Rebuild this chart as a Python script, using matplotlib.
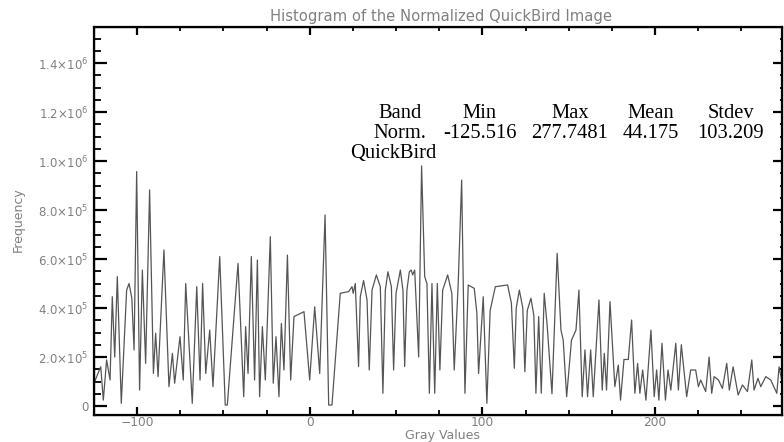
import numpy as np
import matplotlib.pyplot as plt
from matplotlib.ticker import MultipleLocator, FuncFormatter

# histogram turning points (gray value, frequency)
gray_values = [
    -124.5, -121.0, -119.5, -117.6, -115.6, -114.3, -112.9, -111.4, -109.1, -106.0,
    -104.6, -101.7, -100.2, -98.5, -96.9, -95.0, -92.7, -90.5, -89.2, -87.8,
    -84.4, -81.5, -79.5, -78.2, -75.1, -73.2, -71.8, -68.0, -65.4, -63.5,
    -62.0, -60.2, -57.9, -56.0, -52.1, -48.9, -47.7, -41.5, -39.6, -38.2,
    -37.1, -35.7, -33.8, -31.9, -30.3, -29.0, -27.4, -25.7, -22.8, -21.1,
    -19.5, -17.8, -16.4, -14.9, -12.9, -11.0, -9.1, -3.3, 0.0, 2.9,
    5.8, 8.9, 11.0, 12.9, 17.7, 22.5, 24.5, 25.2, 26.4, 28.3,
    31.2, 34.5, 38.6, 42.4, 45.3, 48.6, 52.5, 55.0, 57.7, 58.8,
    59.6, 60.8, 63.1, 64.8, 66.6, 67.9, 69.3, 70.8, 72.4, 73.9,
    75.4, 79.9, 83.7, 86.0, 88.0, 89.9, 91.8, 95.3, 97.8, 100.5,
    102.6, 107.5, 114.6, 118.5, 121.4, 124.6, 128.1, 131.0, 132.6, 134.1,
    135.8, 137.5, 140.3, 143.3, 145.5, 146.8, 148.8, 151.6, 154.2, 155.9,
    157.8, 159.4, 160.9, 162.7, 164.2, 167.5, 169.4, 170.6, 171.9, 173.9,
    176.7, 178.7, 180.0, 182.0, 184.5, 186.4, 188.3, 189.9, 191.2, 192.8,
    194.7, 197.6, 199.5, 200.9, 202.2, 204.0, 206.0, 207.5, 209.1, 212.0,
    213.5, 215.2, 218.3, 220.6, 223.5, 225.1, 226.4, 229.3, 231.3, 232.8,
    234.2, 236.7, 239.0, 241.5, 243.0, 245.2, 248.1, 250.6, 253.5, 256.0,
    257.3, 259.6, 261.2, 264.1, 267.0, 270.5, 271.8, 273.5,
]
frequency = [
    1.0e5, 1.6e5, 2.4e4, 1.88e5, 1.06e5, 4.46e5, 2.0e5, 5.28e5, 1.1e4, 4.73e5,
    5.0e5, 2.29e5, 9.57e5, 6.5e4, 5.55e5, 1.74e5, 8.82e5, 1.33e5, 2.97e5, 1.2e5,
    6.37e5, 7.9e4, 2.15e5, 9.3e4, 2.83e5, 1.06e5, 5.0e5, 1.1e4, 4.87e5, 1.06e5,
    5.0e5, 1.33e5, 3.1e5, 7.9e4, 6.1e5, 4e3, 4e3, 5.82e5, 2.69e5, 3.8e4,
    3.24e5, 1.33e5, 6.1e5, 1.06e5, 5.96e5, 3.8e4, 3.24e5, 1.06e5, 6.91e5, 9.3e4,
    2.83e5, 3.8e4, 3.37e5, 1.47e5, 6.16e5, 1.06e5, 3.65e5, 3.85e5, 1.06e5, 4.05e5,
    1.33e5, 7.8e5, 4e3, 4e3, 4.6e5, 4.67e5, 4.87e5, 4.6e5, 5.0e5, 1.61e5,
    5.12e5, 1.47e5, 5.35e5, 5.2e4, 5.48e5, 1.47e5, 5.55e5, 1.61e5, 5.48e5, 5.55e5,
    5.35e5, 5.55e5, 2.0e5, 9.8e5, 5.28e5, 5.0e5, 5.2e4, 5.0e5, 5.2e4, 5.0e5,
    1.47e5, 5.35e5, 1.47e5, 5.0e5, 9.22e5, 5.2e4, 4.94e5, 4.8e5, 1.33e5, 4.46e5,
    1.1e4, 4.87e5, 4.94e5, 1.54e5, 4.73e5, 1.4e5, 4.4e5, 5.2e4, 3.65e5, 5.2e4,
    4.6e5, 3.3e5, 5.0e4, 6.23e5, 3.1e5, 2.69e5, 3.8e4, 2.69e5, 3.1e5, 4.73e5,
    3.8e4, 2.29e5, 3.8e4, 2.29e5, 3.8e4, 4.33e5, 6.5e4, 2.15e5, 6.5e4, 4.26e5,
    7.9e4, 1.67e5, 2.4e4, 1.9e5, 1.9e5, 3.51e5, 5.2e4, 1.74e5, 5.2e4, 1.47e5,
    2.4e4, 3.1e5, 3.8e4, 1.47e5, 2.4e4, 2.56e5, 2.4e4, 1.47e5, 6.5e4, 2.56e5,
    6.5e4, 2.5e5, 3.8e4, 1.47e5, 1.47e5, 7.9e4, 1.06e5, 5.9e4, 2.0e5, 5.2e4,
    1.2e5, 1.06e5, 7.2e4, 1.74e5, 6.5e4, 1.6e5, 4.5e4, 8.6e4, 5.9e4, 1.88e5,
    6.5e4, 1.13e5, 7.9e4, 1.2e5, 1.06e5, 5.2e4, 1.6e5, 1.0e5,
]

# extra points on the shoulders of the rounded humps
shoulder_gray = [-103.0, 29.3, 33.2, 36.1, 40.9, 43.8, 47.3, 50.0, 54.0, 56.3,
                 77.0, 82.3, 96.8, 104.5, 116.8, 119.6, 123.4, 126.0, 129.8]
shoulder_freq = [4.4e5, 4.46e5, 4.33e5, 4.73e5, 4.87e5, 4.73e5, 4.87e5, 4.6e5, 4.73e5, 4.73e5,
                 4.73e5, 4.6e5, 3.8e5, 3.9e5, 4.2e5, 4.0e5, 4.0e5, 3.9e5, 3.7e5]

header = ['Band', 'Min', 'Max', 'Mean', 'Stdev']
row_norm = ['Norm.', '-125.516', '277.7481', '44.175', '103.209']
band_name = 'QuickBird'

label_grey = '#808080'


def sci_label(v, pos):
    if abs(v) < 1:
        return '0'
    if v < 0:
        return ''
    exp = int(np.floor(np.log10(v)))
    mant = v / 10 ** exp
    return r'$\mathregular{%.1f{\times}10^{%d}}$' % (mant, exp)


gx = np.array(gray_values + shoulder_gray)
fy = np.array(frequency + shoulder_freq)
order = np.argsort(gx)
gx, fy = gx[order], fy[order]

fig = plt.figure(figsize=(7.84, 4.42), dpi=100)
ax = fig.add_axes([94 / 784, 1 - 415 / 442, (782 - 94) / 784, (415 - 27) / 442])

ax.plot(gx, fy, color='#555555', lw=0.9)

ax.set_xlim(-124.9, 273.5)
ax.set_ylim(-3.67e4, 1.547e6)

ax.xaxis.set_major_locator(MultipleLocator(100))
ax.xaxis.set_minor_locator(MultipleLocator(25))
ax.yaxis.set_major_locator(MultipleLocator(2e5))
ax.yaxis.set_minor_locator(MultipleLocator(5e4))
ax.yaxis.set_major_formatter(FuncFormatter(sci_label))

for s in ax.spines.values():
    s.set_linewidth(1.6)

ax.tick_params(axis='x', which='major', direction='in', length=6, width=1.6,
               labelsize=8.8, labelcolor=label_grey, pad=1, top=False)
ax.tick_params(axis='x', which='minor', direction='in', length=3.5, width=1.3, top=False)
ax.tick_params(axis='y', which='major', direction='in', length=9.5, width=1.6,
               labelsize=8.5, labelcolor=label_grey, pad=4, right=False)
ax.tick_params(axis='y', which='minor', direction='in', length=5, width=1.3, right=False)

# top and right ticks are shorter, use twin axes for them
axt = ax.twiny()
axt.set_xlim(ax.get_xlim())
axt.xaxis.set_major_locator(MultipleLocator(100))
axt.xaxis.set_minor_locator(MultipleLocator(25))
axt.tick_params(axis='x', which='major', direction='in', length=5.5, width=1.6, labeltop=False)
axt.tick_params(axis='x', which='minor', direction='in', length=3, width=1.3)

axr = ax.twinx()
axr.set_ylim(ax.get_ylim())
axr.yaxis.set_major_locator(MultipleLocator(2e5))
axr.yaxis.set_minor_locator(MultipleLocator(5e4))
axr.tick_params(axis='y', which='major', direction='in', length=6.5, width=1.6, labelright=False)
axr.tick_params(axis='y', which='minor', direction='in', length=1.5, width=1.3)

fig.text(441 / 784, 1 - 17 / 442, 'Histogram of the Normalized QuickBird Image',
         ha='center', va='center', fontsize=10.6, color=label_grey)
fig.text(442 / 784, 1 - 436 / 442, 'Gray Values', ha='center', va='center',
         fontsize=9, color=label_grey)
fig.text(18 / 784, 1 - 220 / 442, 'Frequency', ha='center', va='center',
         rotation=90, fontsize=9, color=label_grey)

# statistics table
col_x = [400, 480, 570, 651, 731]
serif = dict(family='Liberation Serif', fontsize=14.8, color='black',
             ha='center', va='baseline')
for cx, h, r in zip(col_x, header, row_norm):
    fig.text(cx / 784, 1 - 118 / 442, h, **serif)
    fig.text(cx / 784, 1 - 137.5 / 442, r, **serif)
fig.text(393 / 784, 1 - 158 / 442, band_name, **serif)

fig.savefig('out.png', dpi=100)
